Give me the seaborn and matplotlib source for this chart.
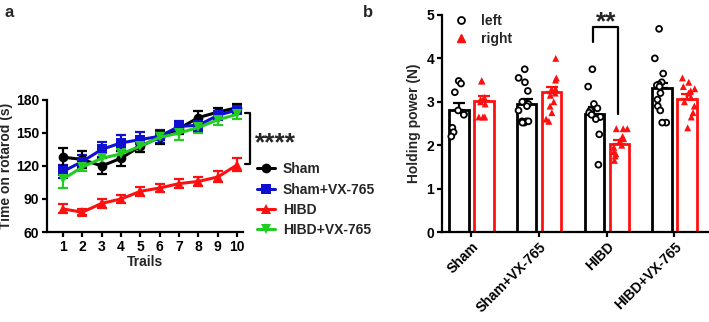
import numpy as np
import pandas as pd
import matplotlib
matplotlib.use("Agg")
import matplotlib.pyplot as plt
from matplotlib.lines import Line2D
import seaborn as sns

np.random.seed(3)

# ---------------- data: panel a ----------------
trials = [1, 2, 3, 4, 5, 6, 7, 8, 9, 10]
groups_a = ["Sham", "Sham+VX-765", "HIBD", "HIBD+VX-765"]
sham_mean = [128, 126, 120, 127, 138, 146, 154, 164, 169, 173]
sham_sem = [8, 8, 7, 7, 5, 6, 5, 6, 4, 3]
shamvx_mean = [115, 124, 135, 141, 144, 147, 156, 157, 166, 171]
shamvx_sem = [6, 6, 7, 7, 7, 6, 5, 5, 4, 3]
hibd_mean = [81, 78, 86, 90, 97, 100, 104, 106, 110, 121]
hibd_sem = [4, 3, 4, 4, 4, 4, 4, 4, 5, 6]
hibdvx_mean = [108, 119, 127, 131, 138, 146, 150, 155, 162, 167]
hibdvx_sem = [8, 4, 5, 5, 5, 5, 6, 5, 5, 4]

# ---------------- data: panel b ----------------
groups_b = ["Sham", "Sham+VX-765", "HIBD", "HIBD+VX-765"]
sides = ["left", "right"]
bar_left = [2.82, 2.95, 2.72, 3.32]
bar_right = [3.02, 3.22, 2.03, 3.07]
sem_left = [0.15, 0.12, 0.15, 0.12]
sem_right = [0.12, 0.12, 0.08, 0.10]
pts_sham_left = [3.48, 3.42, 3.22, 2.8, 2.72, 2.7, 2.4, 2.3, 2.2]
pts_sham_right = [3.48, 3.48, 3.1, 3.05, 3.0, 2.95, 2.65, 2.65, 2.65]
pts_shamvx_left = [3.75, 3.55, 3.45, 3.25, 3.0, 2.95, 2.9, 2.8, 2.55, 2.55, 2.52, 2.52, 2.55]
pts_shamvx_right = [4.0, 3.55, 3.5, 3.3, 3.25, 3.2, 3.15, 3.0, 2.9, 2.75, 2.6, 2.55]
pts_hibd_left = [3.75, 3.35, 2.95, 2.85, 2.8, 2.75, 2.7, 2.65, 2.65, 2.6, 2.25, 1.55]
pts_hibd_right = [2.38, 2.38, 2.38, 2.2, 2.15, 2.1, 2.0, 1.95, 1.85, 1.8, 1.75, 1.65]
pts_hibdvx_left = [4.68, 4.0, 3.65, 3.45, 3.4, 3.38, 3.35, 3.2, 3.05, 2.9, 2.8, 2.52, 2.52]
pts_hibdvx_right = [3.55, 3.45, 3.35, 3.3, 3.25, 3.2, 3.1, 3.0, 2.9, 2.75, 2.65, 2.4]

sns.set_theme(style="ticks")
plt.rcParams["font.family"] = ["Liberation Sans", "DejaVu Sans"]
plt.rcParams["font.weight"] = "bold"
plt.rcParams["axes.labelweight"] = "bold"
plt.rcParams["axes.linewidth"] = 1.6
plt.rcParams["xtick.major.width"] = 1.6
plt.rcParams["ytick.major.width"] = 1.6
plt.rcParams["xtick.major.size"] = 3.5
plt.rcParams["ytick.major.size"] = 3.5
plt.rcParams["xtick.color"] = "black"
plt.rcParams["ytick.color"] = "black"
plt.rcParams["axes.edgecolor"] = "black"

FS = 10

fig = plt.figure(figsize=(7.09, 3.22), dpi=100)
axa = fig.add_axes([0.066, 0.2795, 0.277, 0.41])
axb = fig.add_axes([0.623, 0.2795, 0.375, 0.674])

# ---------------- panel a ----------------
colors_a = {"Sham": "black", "Sham+VX-765": "#1010d0", "HIBD": "#ff1010", "HIBD+VX-765": "#22cc22"}
markers_a = {"Sham": "o", "Sham+VX-765": "s", "HIBD": "^", "HIBD+VX-765": "v"}
means = [sham_mean, shamvx_mean, hibd_mean, hibdvx_mean]
sems = [sham_sem, shamvx_sem, hibd_sem, hibdvx_sem]
rows = []
for g, m in zip(groups_a, means):
    for t, v in zip(trials, m):
        rows.append({"trial": t, "time": v, "group": g})
dfa = pd.DataFrame(rows)

draw_order = ["HIBD+VX-765", "HIBD", "Sham+VX-765", "Sham"]
for g in draw_order:
    i = groups_a.index(g)
    axa.errorbar(trials, means[i], yerr=sems[i], fmt="none", ecolor=colors_a[g],
                 elinewidth=1.6, capsize=3.5, capthick=1.6, zorder=2)

sns.lineplot(data=dfa, x="trial", y="time", hue="group", style="group",
             hue_order=groups_a, style_order=groups_a, palette=colors_a,
             markers=markers_a, dashes=False, linewidth=2.2, markersize=7,
             markeredgewidth=0, ax=axa, legend=True, zorder=3)

axa.set_xlim(0.17, 10.31)
axa.set_ylim(60, 180)
axa.set_xticks(trials)
axa.set_yticks([60, 90, 120, 150, 180])
axa.set_xlabel("Trails", fontsize=FS, labelpad=1)
axa.set_ylabel("Time on rotarod (s)", fontsize=FS, labelpad=2)
axa.tick_params(labelsize=FS, pad=2)
for lab in axa.get_xticklabels() + axa.get_yticklabels():
    lab.set_fontweight("bold")
sns.despine(ax=axa)

handles, labels = axa.get_legend_handles_labels()
axa.legend(handles, labels, loc="upper left", bbox_to_anchor=(1.04, 0.57),
           frameon=False, fontsize=FS, handlelength=1.3, handletextpad=0.6,
           labelspacing=0.45, borderaxespad=0)

axa.plot([10.42, 10.67, 10.67, 10.42], [168, 168, 122, 122], color="black",
         lw=1.6, clip_on=False)
axa.text(10.9, 141, "****", fontsize=19, fontweight="bold", ha="left",
         va="center", clip_on=False)

# ---------------- panel b ----------------
dfb = pd.DataFrame({
    "group": groups_b * 2,
    "side": ["left"] * 4 + ["right"] * 4,
    "value": bar_left + bar_right,
})
pts = {
    ("Sham", "left"): pts_sham_left, ("Sham", "right"): pts_sham_right,
    ("Sham+VX-765", "left"): pts_shamvx_left, ("Sham+VX-765", "right"): pts_shamvx_right,
    ("HIBD", "left"): pts_hibd_left, ("HIBD", "right"): pts_hibd_right,
    ("HIBD+VX-765", "left"): pts_hibdvx_left, ("HIBD+VX-765", "right"): pts_hibdvx_right,
}
prow = []
for (g, s), vals in pts.items():
    for v in vals:
        prow.append({"group": g, "side": s, "value": v})
dfp = pd.DataFrame(prow)

pal_b = {"left": "black", "right": "#ff1010"}
sns.barplot(data=dfb, x="group", y="value", hue="side", order=groups_b,
            hue_order=sides, palette=pal_b, fill=False, width=0.74, gap=0.22,
            linewidth=2.0, errorbar=None, ax=axb, legend=False)

offs = {"left": -0.185, "right": 0.185}
for s, m, e in [("left", bar_left, sem_left), ("right", bar_right, sem_right)]:
    xs = np.arange(len(groups_b)) + offs[s]
    axb.errorbar(xs, m, yerr=[np.zeros(len(m)), e], fmt="none", ecolor=pal_b[s],
                 elinewidth=1.6, capsize=4, capthick=1.6, zorder=3)

sns.stripplot(data=dfp[dfp.side == "left"], x="group", y="value", hue="side",
              order=groups_b, hue_order=sides, dodge=True, jitter=0.22,
              palette={"left": "white", "right": "white"},
              edgecolor="black", linewidth=1.3, marker="o", size=4.2, ax=axb,
              legend=False, zorder=4)
sns.stripplot(data=dfp[dfp.side == "right"], x="group", y="value", hue="side",
              order=groups_b, hue_order=sides, dodge=True, jitter=0.22,
              palette=pal_b, marker="^", size=5, linewidth=0, ax=axb,
              legend=False, zorder=4)

axb.set_xlim(-0.44, 3.49)
axb.set_ylim(0, 5)
axb.set_yticks([0, 1, 2, 3, 4, 5])
axb.set_xlabel("")
axb.set_ylabel("Holding power (N)", fontsize=FS, labelpad=4)
axb.tick_params(labelsize=FS, pad=2)
axb.set_xticks(range(len(groups_b)))
axb.set_xticklabels(groups_b, rotation=45, ha="right", rotation_mode="anchor",
                    fontweight="bold")
for lab in axb.get_yticklabels():
    lab.set_fontweight("bold")
sns.despine(ax=axb)

leg_handles = [
    Line2D([], [], linestyle="none", marker="o", markerfacecolor="white",
           markeredgecolor="black", markeredgewidth=1.3, markersize=5),
    Line2D([], [], linestyle="none", marker="^", color="#ff1010", markersize=6),
]
axb.legend(leg_handles, ["left", "right"], loc="upper left",
           bbox_to_anchor=(0.0, 1.03), frameon=False, fontsize=FS,
           handletextpad=0.4, labelspacing=0.3, borderaxespad=0)

axb.plot([1.8, 1.8, 2.17, 2.17], [4.38, 4.72, 4.72, 2.72], color="black", lw=1.6)
axb.text(1.985, 4.83, "**", fontsize=19, fontweight="bold", ha="center", va="center")

fig.text(0.007, 0.962, "a", fontsize=12, fontweight="bold", va="center")
fig.text(0.512, 0.962, "b", fontsize=12, fontweight="bold", va="center")

fig.savefig("out.png", dpi=100)
